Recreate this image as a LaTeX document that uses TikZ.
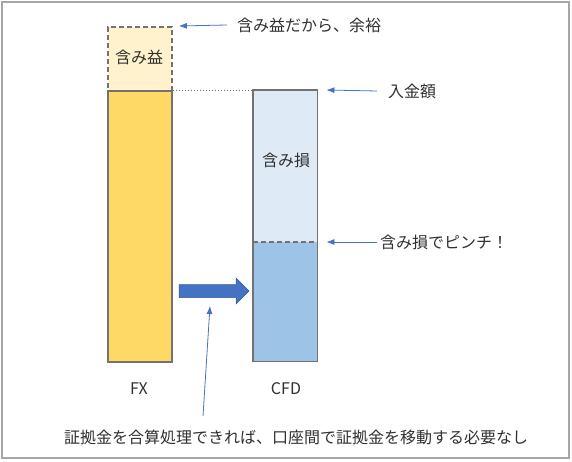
\documentclass[tikz,border=0pt]{standalone}
\usepackage{fontspec}
\setmainfont{Noto Sans CJK JP}
\usetikzlibrary{arrows.meta}
\definecolor{bord}{HTML}{767171}
\definecolor{fxgold}{HTML}{FFD966}
\definecolor{fxlight}{HTML}{FFF2CC}
\definecolor{cfdlight}{HTML}{DEEBF7}
\definecolor{cfdmid}{HTML}{9DC3E6}
\definecolor{arrblue}{HTML}{4472C4}
\definecolor{txt}{HTML}{303030}
\definecolor{framegray}{HTML}{A6A6A6}
\tikzset{
  barbox/.style={rectangle, inner sep=0pt, minimum width=64pt, anchor=north west},
  lbl/.style={inner sep=0pt, text=txt, font=\fontsize{16}{19}\selectfont},
  thinarrow/.style={draw=arrblue, line width=0.8pt, -{Latex[length=8pt,width=6pt]}},
}
\begin{document}
\begin{tikzpicture}[x=1pt,y=-1pt]
\useasboundingbox (0,0) rectangle (572,462);
\draw[framegray, line width=1.4pt] (2,2) rectangle (569,458);

% FX bar
\node[barbox, minimum height=64pt, fill=fxlight, draw=bord, line width=1.8pt, dash pattern=on 5pt off 3pt] (fxgain) at (107,26) {};
\node[barbox, minimum height=271pt, fill=fxgold, draw=bord, line width=1.8pt] (fxbar) at (107,90) {};
\node[lbl] (gainlbl) at (139,57) {含み益};

% CFD bar
\node[barbox, minimum height=152pt, fill=cfdlight] (cfdtop) at (253,90) {};
\node[barbox, minimum height=119pt, fill=cfdmid] (cfdbot) at (253,242) {};
\draw[bord, line width=1.8pt, dash pattern=on 5pt off 3pt] (cfdbot.north west) -- (cfdbot.north east);
\draw[bord, line width=1.8pt] (cfdtop.north west) rectangle (cfdbot.south east);
\node[lbl] (losslbl) at (286,160) {含み損};

% dotted level line
\draw[bord, line width=0.7pt, dash pattern=on 1.5pt off 1.5pt] (fxbar.north east) -- (cfdtop.north west);

% labels below
\node[lbl] (fx) at (139,389) {FX};
\node[lbl] (cfd) at (286,389) {CFD};

% right side annotations
\node[lbl, anchor=west] (note1) at (237,25) {含み益だから、余裕};
\node[lbl, anchor=west] (note2) at (388,91) {入金額};
\node[lbl, anchor=west] (note3) at (380,242) {含み損でピンチ！};
\draw[thinarrow] ([xshift=-10pt]note1.west) -- ([xshift=6pt]fxgain.north east);
\draw[thinarrow] ([xshift=-11pt]note2.west) -- ([xshift=9pt]cfdtop.north east);
\draw[thinarrow] ([xshift=-3pt]note3.west) -- ([xshift=9pt]cfdbot.north east);

% big arrow
\coordinate (bigs) at (179,291);
\coordinate (bige) at (249,291);
\fill[arrblue, draw=arrblue!80!black, line width=0.5pt]
  (179,284.5) -- (236,284.5) -- (236,278) -- (249,291) -- (236,304) -- (236,297.5) -- (179,297.5) -- cycle;

% bottom note
\node[lbl] (bottom) at (296,437) {証拠金を合算処理できれば、口座間で証拠金を移動する必要なし};
\coordinate (ptr0) at (203,416);
\coordinate (ptr1) at (210,306);
\draw[thinarrow] (ptr0) -- (ptr1);
\end{tikzpicture}
\end{document}
